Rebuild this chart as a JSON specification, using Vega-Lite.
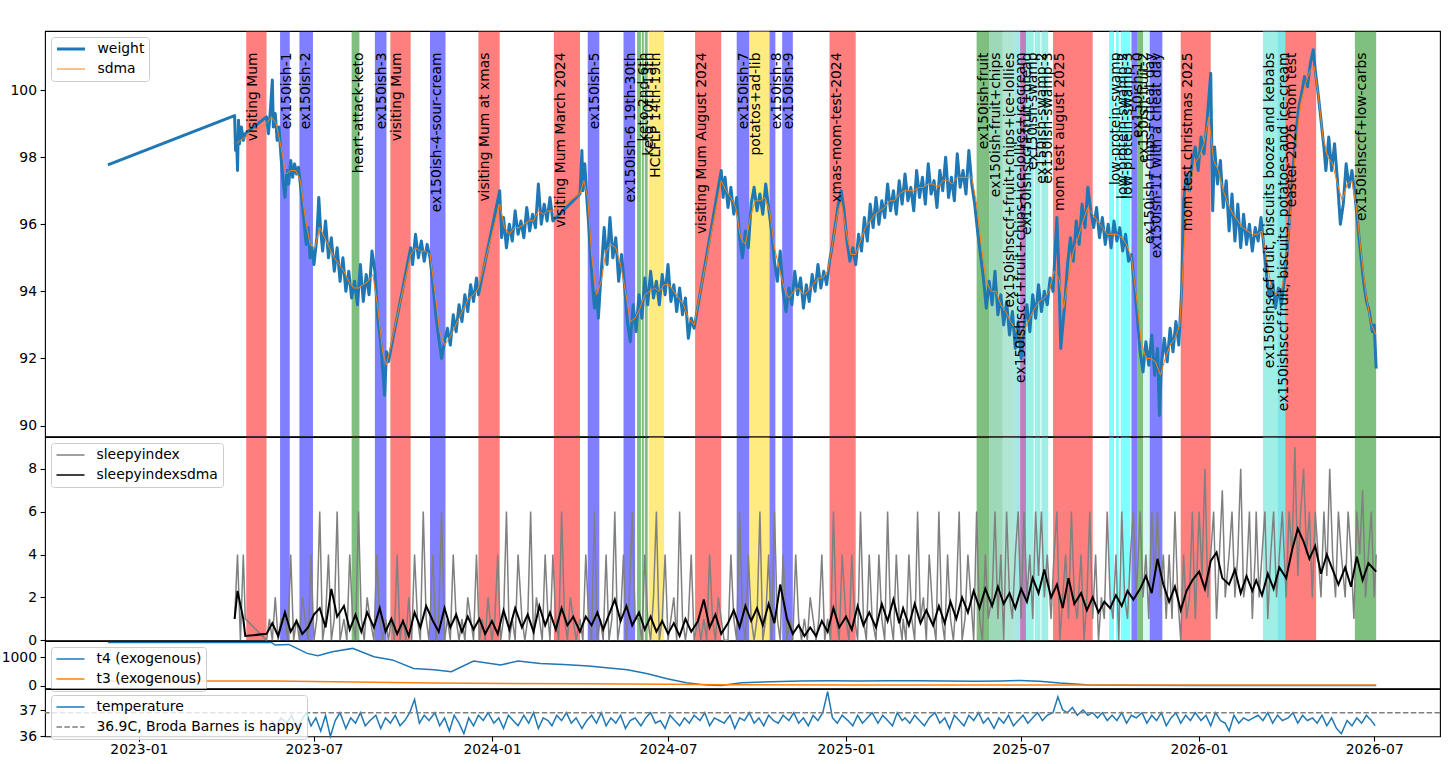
{
"$schema":"https://vega.github.io/schema/vega-lite/v6.json",
"padding":{"left":0,"top":30,"right":10,"bottom":5},
"spacing":0,
"bounds":"flush",
"config":{
 "font":"DejaVu Sans",
 "view":{"stroke":"#000","strokeWidth":1.1},
 "axis":{"labelFont":"DejaVu Sans","labelFontSize":13.9,"labelColor":"#000","tickColor":"#000","tickWidth":1.1,"tickSize":4.9,"domain":false,"grid":false,"title":null},
 "axisY":{"labelPadding":3.6},
 "axisX":{"labelPadding":1.5},
 "legend":{"orient":"top-left","offset":6,"labelFont":"DejaVu Sans","labelFontSize":13.9,"labelColor":"#000","symbolType":"stroke","symbolSize":784,"symbolStrokeWidth":1.5,"fillColor":"rgba(255,255,255,0.8)","strokeColor":"#cccccc","cornerRadius":3,"padding":4.5,"rowPadding":5,"clipHeight":15,"labelOffset":11,"labelLimit":500}
},
"resolve":{"scale":{"y":"independent","color":"independent","fill":"independent","strokeWidth":"independent","strokeDash":"independent"},"legend":{"color":"independent","strokeWidth":"independent","strokeDash":"independent"}},
"datasets":{
"bands":[
{"s":"2023-04-22","e":"2023-05-13","k":"visit","l":"visiting Mum"},
{"s":"2023-05-27","e":"2023-06-06","k":"ex","l":"ex150ish-1"},
{"s":"2023-06-16","e":"2023-06-30","k":"ex","l":"ex150ish-2"},
{"s":"2023-08-09","e":"2023-08-17","k":"keto","l":"heart-attack-keto"},
{"s":"2023-09-02","e":"2023-09-14","k":"ex","l":"ex150ish-3"},
{"s":"2023-09-18","e":"2023-10-09","k":"visit","l":"visiting Mum"},
{"s":"2023-10-29","e":"2023-11-14","k":"ex","l":"ex150ish-4-sour-cream"},
{"s":"2023-12-18","e":"2024-01-09","k":"visit","l":"visiting Mum at xmas"},
{"s":"2024-03-05","e":"2024-04-01","k":"visit","l":"visiting Mum March 2024"},
{"s":"2024-04-09","e":"2024-04-21","k":"ex","l":"ex150ish-5"},
{"s":"2024-05-16","e":"2024-05-28","k":"ex","l":"ex150ish-6 19th-30th"},
{"s":"2024-05-30","e":"2024-06-03","k":"keto","l":"keto 2nd-6th"},
{"s":"2024-06-04","e":"2024-06-06","k":"keto","l":"keto 10th-13th"},
{"s":"2024-06-07","e":"2024-06-10","k":"keto","l":null},
{"s":"2024-06-11","e":"2024-06-27","k":"potato","l":"HCLFLP 14th-19th"},
{"s":"2024-07-29","e":"2024-08-25","k":"visit","l":"visiting Mum August 2024"},
{"s":"2024-09-10","e":"2024-09-23","k":"ex","l":"ex150ish-7"},
{"s":"2024-09-23","e":"2024-10-14","k":"potato","l":"potatos+ad-lib"},
{"s":"2024-10-14","e":"2024-10-20","k":"ex","l":"ex150ish-8"},
{"s":"2024-10-27","e":"2024-11-07","k":"ex","l":"ex150ish-9"},
{"s":"2024-12-15","e":"2025-01-11","k":"visit","l":"xmas-mom-test-2024"},
{"s":"2025-05-16","e":"2025-05-29","k":"keto","l":"ex150ish-fruit"},
{"s":"2025-05-29","e":"2025-06-12","k":"fruitchips","l":"ex150ish-fruit+chips"},
{"s":"2025-06-12","e":"2025-06-24","k":"lollies","l":"ex150ishsccf+fruit+chips+ice-lollies"},
{"s":"2025-06-24","e":"2025-06-30","k":"icecream","l":"ex150ishsccf+fruit+chips+ice-lollies+icecream"},
{"s":"2025-06-30","e":"2025-07-06","k":"bread","l":"ex150ishsccf+fruit+bread"},
{"s":"2025-07-06","e":"2025-07-14","k":"swamp","l":"ex150ish-swamp"},
{"s":"2025-07-15","e":"2025-07-21","k":"swamp","l":"ex150ish-swamp-2"},
{"s":"2025-07-22","e":"2025-07-29","k":"swamp","l":"ex150ish-swamp-3"},
{"s":"2025-08-03","e":"2025-09-13","k":"visit","l":"mom test august 2025"},
{"s":"2025-09-30","e":"2025-10-05","k":"lowprot","l":"low-protein-swamp"},
{"s":"2025-10-07","e":"2025-10-10","k":"lowprot","l":"low-protein-swamp-2"},
{"s":"2025-10-12","e":"2025-10-22","k":"lowprot","l":"low-protein-swamp-3"},
{"s":"2025-10-23","e":"2025-10-29","k":"ex","l":"ex150ish-10"},
{"s":"2025-10-29","e":"2025-11-04","k":"keto","l":"ex150ish-fruit-2"},
{"s":"2025-11-04","e":"2025-11-11","k":"cheat","l":"ex150ish+chips+cheat day"},
{"s":"2025-11-11","e":"2025-11-24","k":"ex","l":"ex150ish-11 with a cheat day"},
{"s":"2025-12-13","e":"2026-01-13","k":"visit","l":"mom test christmas 2025"},
{"s":"2026-03-08","e":"2026-03-23","k":"swamp","l":"ex150ishsccf fruit, biscuits booze and kebabs"},
{"s":"2026-03-23","e":"2026-03-31","k":"icecream2","l":"ex150ishsccf fruit, biscuits, potatoes and ice-cream"},
{"s":"2026-03-31","e":"2026-05-02","k":"visit","l":"easter 2026 mom test"},
{"s":"2026-06-11","e":"2026-07-03","k":"keto","l":"ex150ishsccf+low-carbs"}
],
"weight":[
{"d":"2022-11-30","w":97.77},{"d":"2023-04-10","w":99.24},{"d":"2023-04-11","w":98.2},{"d":"2023-04-12","w":98.6},{"d":"2023-04-13","w":97.6},{"d":"2023-04-14","w":99.1},{"d":"2023-04-15","w":98.4},{"d":"2023-04-17","w":98.9},{"d":"2023-04-19","w":98.5},{"d":"2023-04-21","w":98.7},
{"d":"2023-05-13","w":99.2},{"d":"2023-05-15","w":98.7},{"d":"2023-05-17","w":99.4},{"d":"2023-05-19","w":100.3},{"d":"2023-05-20","w":98.9},{"d":"2023-05-22","w":99.3},{"d":"2023-05-24","w":98.5},{"d":"2023-05-26","w":98.9},{"d":"2023-05-28","w":98.0},{"d":"2023-05-30","w":97.3},
{"d":"2023-06-01","w":96.8},{"d":"2023-06-03","w":97.6},{"d":"2023-06-05","w":97.2},{"d":"2023-06-07","w":97.9},{"d":"2023-06-09","w":97.4},{"d":"2023-06-11","w":97.8},{"d":"2023-06-13","w":97.5},{"d":"2023-06-15","w":97.7},{"d":"2023-06-17","w":97.2},{"d":"2023-06-19","w":96.6},{"d":"2023-06-21","w":96.0},{"d":"2023-06-23","w":95.4},{"d":"2023-06-25","w":95.9},{"d":"2023-06-27","w":95.0},{"d":"2023-06-29","w":95.3},
{"d":"2023-07-01","w":94.8},{"d":"2023-07-04","w":95.6},{"d":"2023-07-06","w":96.8},{"d":"2023-07-08","w":95.8},{"d":"2023-07-10","w":95.2},{"d":"2023-07-13","w":96.1},{"d":"2023-07-16","w":95.0},{"d":"2023-07-19","w":95.6},{"d":"2023-07-22","w":94.6},{"d":"2023-07-25","w":95.3},{"d":"2023-07-28","w":94.3},{"d":"2023-07-31","w":95.0},
{"d":"2023-08-03","w":94.0},{"d":"2023-08-06","w":94.6},{"d":"2023-08-09","w":93.8},{"d":"2023-08-12","w":94.3},{"d":"2023-08-15","w":93.6},{"d":"2023-08-18","w":94.8},{"d":"2023-08-21","w":93.7},{"d":"2023-08-24","w":94.5},{"d":"2023-08-27","w":93.9},{"d":"2023-08-30","w":95.2},
{"d":"2023-09-02","w":94.6},{"d":"2023-09-05","w":93.2},{"d":"2023-09-08","w":92.5},{"d":"2023-09-10","w":91.7},{"d":"2023-09-12","w":90.9},{"d":"2023-09-14","w":92.2},{"d":"2023-09-16","w":91.9},
{"d":"2023-10-09","w":95.3},{"d":"2023-10-11","w":94.8},{"d":"2023-10-14","w":95.7},{"d":"2023-10-17","w":95.0},{"d":"2023-10-20","w":95.5},{"d":"2023-10-23","w":94.9},{"d":"2023-10-26","w":95.4},{"d":"2023-10-29","w":95.0},
{"d":"2023-11-01","w":94.2},{"d":"2023-11-04","w":93.3},{"d":"2023-11-07","w":92.6},{"d":"2023-11-10","w":92.0},{"d":"2023-11-13","w":92.5},{"d":"2023-11-16","w":92.9},{"d":"2023-11-19","w":92.4},{"d":"2023-11-22","w":93.3},{"d":"2023-11-25","w":92.8},{"d":"2023-11-28","w":93.6},
{"d":"2023-12-01","w":93.1},{"d":"2023-12-04","w":93.9},{"d":"2023-12-07","w":93.4},{"d":"2023-12-10","w":94.2},{"d":"2023-12-13","w":93.7},{"d":"2023-12-16","w":94.4},{"d":"2023-12-18","w":93.9},
{"d":"2024-01-09","w":97.0},{"d":"2024-01-11","w":95.6},{"d":"2024-01-13","w":96.2},{"d":"2024-01-16","w":95.3},{"d":"2024-01-19","w":96.0},{"d":"2024-01-22","w":95.5},{"d":"2024-01-25","w":96.4},{"d":"2024-01-28","w":95.7},{"d":"2024-01-31","w":96.1},
{"d":"2024-02-03","w":95.6},{"d":"2024-02-06","w":96.5},{"d":"2024-02-09","w":95.8},{"d":"2024-02-12","w":96.3},{"d":"2024-02-15","w":95.9},{"d":"2024-02-18","w":97.2},{"d":"2024-02-21","w":96.0},{"d":"2024-02-24","w":96.6},{"d":"2024-02-27","w":96.1},{"d":"2024-03-01","w":96.8},{"d":"2024-03-04","w":96.1},
{"d":"2024-04-01","w":96.9},{"d":"2024-04-03","w":98.2},{"d":"2024-04-04","w":97.0},{"d":"2024-04-06","w":97.8},{"d":"2024-04-08","w":96.8},{"d":"2024-04-10","w":96.0},{"d":"2024-04-12","w":95.0},{"d":"2024-04-14","w":94.2},{"d":"2024-04-16","w":93.5},{"d":"2024-04-18","w":94.0},{"d":"2024-04-20","w":93.2},{"d":"2024-04-23","w":94.6},{"d":"2024-04-26","w":95.9},{"d":"2024-04-29","w":94.8},
{"d":"2024-05-02","w":96.2},{"d":"2024-05-05","w":95.0},{"d":"2024-05-08","w":95.6},{"d":"2024-05-11","w":94.3},{"d":"2024-05-14","w":95.1},{"d":"2024-05-17","w":94.2},{"d":"2024-05-20","w":93.1},{"d":"2024-05-23","w":92.5},{"d":"2024-05-26","w":93.6},{"d":"2024-05-29","w":92.8},
{"d":"2024-06-01","w":93.9},{"d":"2024-06-04","w":93.2},{"d":"2024-06-07","w":94.4},{"d":"2024-06-10","w":93.6},{"d":"2024-06-13","w":94.6},{"d":"2024-06-16","w":93.8},{"d":"2024-06-19","w":94.3},{"d":"2024-06-22","w":93.6},{"d":"2024-06-25","w":94.5},{"d":"2024-06-28","w":93.9},
{"d":"2024-07-01","w":94.8},{"d":"2024-07-04","w":93.7},{"d":"2024-07-07","w":94.2},{"d":"2024-07-10","w":93.4},{"d":"2024-07-13","w":94.1},{"d":"2024-07-16","w":93.3},{"d":"2024-07-19","w":93.8},{"d":"2024-07-22","w":92.6},{"d":"2024-07-25","w":93.2},{"d":"2024-07-28","w":92.9},
{"d":"2024-08-25","w":97.6},{"d":"2024-08-27","w":96.8},{"d":"2024-08-29","w":97.4},{"d":"2024-09-01","w":96.5},{"d":"2024-09-04","w":97.1},{"d":"2024-09-07","w":96.3},{"d":"2024-09-10","w":96.8},{"d":"2024-09-13","w":95.6},{"d":"2024-09-16","w":95.0},{"d":"2024-09-19","w":95.8},{"d":"2024-09-22","w":95.3},{"d":"2024-09-25","w":96.6},{"d":"2024-09-28","w":97.1},
{"d":"2024-10-01","w":96.4},{"d":"2024-10-04","w":96.9},{"d":"2024-10-07","w":96.3},{"d":"2024-10-10","w":97.2},{"d":"2024-10-13","w":96.5},{"d":"2024-10-16","w":95.8},{"d":"2024-10-19","w":94.9},{"d":"2024-10-22","w":94.3},{"d":"2024-10-25","w":95.2},{"d":"2024-10-28","w":94.0},{"d":"2024-10-31","w":93.4},
{"d":"2024-11-03","w":94.1},{"d":"2024-11-06","w":93.6},{"d":"2024-11-09","w":94.6},{"d":"2024-11-12","w":93.9},{"d":"2024-11-15","w":94.4},{"d":"2024-11-18","w":93.5},{"d":"2024-11-21","w":94.2},{"d":"2024-11-24","w":93.7},{"d":"2024-11-27","w":94.5},{"d":"2024-11-30","w":94.0},
{"d":"2024-12-03","w":94.8},{"d":"2024-12-06","w":94.1},{"d":"2024-12-09","w":94.6},{"d":"2024-12-12","w":94.2},{"d":"2024-12-15","w":94.9},{"d":"2024-12-18","w":95.4},{"d":"2024-12-21","w":96.0},{"d":"2024-12-24","w":96.6},{"d":"2024-12-27","w":97.0},{"d":"2024-12-30","w":96.4},
{"d":"2025-01-02","w":95.5},{"d":"2025-01-05","w":94.9},{"d":"2025-01-08","w":95.3},{"d":"2025-01-11","w":94.8},{"d":"2025-01-14","w":95.7},{"d":"2025-01-17","w":95.2},{"d":"2025-01-20","w":96.2},{"d":"2025-01-23","w":95.5},{"d":"2025-01-26","w":96.6},{"d":"2025-01-29","w":95.9},
{"d":"2025-02-01","w":96.8},{"d":"2025-02-04","w":96.0},{"d":"2025-02-07","w":96.7},{"d":"2025-02-10","w":96.2},{"d":"2025-02-13","w":97.2},{"d":"2025-02-16","w":96.4},{"d":"2025-02-19","w":97.0},{"d":"2025-02-22","w":96.3},{"d":"2025-02-25","w":97.3},{"d":"2025-02-28","w":96.6},
{"d":"2025-03-03","w":97.5},{"d":"2025-03-06","w":96.7},{"d":"2025-03-09","w":97.1},{"d":"2025-03-12","w":96.4},{"d":"2025-03-15","w":97.6},{"d":"2025-03-18","w":96.8},{"d":"2025-03-21","w":97.4},{"d":"2025-03-24","w":96.6},{"d":"2025-03-27","w":97.8},{"d":"2025-03-30","w":96.9},
{"d":"2025-04-02","w":97.3},{"d":"2025-04-05","w":96.5},{"d":"2025-04-08","w":97.6},{"d":"2025-04-11","w":97.0},{"d":"2025-04-14","w":98.0},{"d":"2025-04-17","w":96.8},{"d":"2025-04-20","w":97.4},{"d":"2025-04-23","w":96.7},{"d":"2025-04-26","w":98.1},{"d":"2025-04-29","w":97.1},
{"d":"2025-05-02","w":97.6},{"d":"2025-05-05","w":96.9},{"d":"2025-05-08","w":98.2},{"d":"2025-05-11","w":97.2},{"d":"2025-05-14","w":96.6},{"d":"2025-05-17","w":95.8},{"d":"2025-05-20","w":95.1},{"d":"2025-05-23","w":94.4},{"d":"2025-05-26","w":93.5},{"d":"2025-05-29","w":94.3},
{"d":"2025-06-01","w":93.6},{"d":"2025-06-04","w":94.6},{"d":"2025-06-07","w":93.3},{"d":"2025-06-10","w":93.9},{"d":"2025-06-13","w":93.0},{"d":"2025-06-16","w":93.7},{"d":"2025-06-19","w":92.7},{"d":"2025-06-22","w":93.4},{"d":"2025-06-25","w":92.3},{"d":"2025-06-28","w":93.1},
{"d":"2025-07-01","w":92.0},{"d":"2025-07-04","w":92.9},{"d":"2025-07-07","w":93.6},{"d":"2025-07-10","w":92.8},{"d":"2025-07-13","w":93.9},{"d":"2025-07-16","w":93.2},{"d":"2025-07-19","w":94.2},{"d":"2025-07-22","w":93.4},{"d":"2025-07-25","w":94.0},{"d":"2025-07-28","w":93.6},{"d":"2025-07-31","w":94.4},
{"d":"2025-08-03","w":94.0},{"d":"2025-08-07","w":96.2},{"d":"2025-08-09","w":94.6},{"d":"2025-08-11","w":92.3},{"d":"2025-08-15","w":93.6},{"d":"2025-08-18","w":94.8},{"d":"2025-08-21","w":95.6},{"d":"2025-08-24","w":94.9},{"d":"2025-08-27","w":96.1},{"d":"2025-08-30","w":95.4},
{"d":"2025-09-02","w":96.6},{"d":"2025-09-05","w":95.9},{"d":"2025-09-08","w":97.1},{"d":"2025-09-11","w":96.4},{"d":"2025-09-14","w":95.9},{"d":"2025-09-17","w":96.5},{"d":"2025-09-20","w":95.6},{"d":"2025-09-23","w":96.2},{"d":"2025-09-26","w":95.4},{"d":"2025-09-29","w":96.0},
{"d":"2025-10-02","w":95.3},{"d":"2025-10-05","w":96.1},{"d":"2025-10-08","w":95.5},{"d":"2025-10-11","w":95.9},{"d":"2025-10-14","w":95.2},{"d":"2025-10-17","w":95.7},{"d":"2025-10-20","w":94.9},{"d":"2025-10-23","w":95.1},{"d":"2025-10-26","w":94.2},{"d":"2025-10-29","w":93.3},
{"d":"2025-11-01","w":92.2},{"d":"2025-11-04","w":91.6},{"d":"2025-11-07","w":92.5},{"d":"2025-11-10","w":91.8},{"d":"2025-11-13","w":92.7},{"d":"2025-11-16","w":91.5},{"d":"2025-11-19","w":92.3},{"d":"2025-11-21","w":90.3},{"d":"2025-11-23","w":91.8},{"d":"2025-11-26","w":92.6},{"d":"2025-11-29","w":91.9},
{"d":"2025-12-02","w":92.9},{"d":"2025-12-05","w":92.2},{"d":"2025-12-08","w":93.1},{"d":"2025-12-11","w":92.4},{"d":"2025-12-14","w":94.1},{"d":"2025-12-16","w":96.7},{"d":"2025-12-19","w":97.5},{"d":"2025-12-22","w":97.0},{"d":"2025-12-25","w":97.9},{"d":"2025-12-28","w":98.3},{"d":"2025-12-31","w":97.6},
{"d":"2026-01-03","w":98.6},{"d":"2026-01-06","w":98.1},{"d":"2026-01-09","w":99.0},{"d":"2026-01-13","w":100.5},{"d":"2026-01-15","w":96.4},{"d":"2026-01-17","w":98.3},{"d":"2026-01-20","w":97.2},{"d":"2026-01-23","w":97.9},{"d":"2026-01-26","w":96.5},{"d":"2026-01-29","w":97.3},
{"d":"2026-02-01","w":95.8},{"d":"2026-02-04","w":96.9},{"d":"2026-02-07","w":95.5},{"d":"2026-02-10","w":96.6},{"d":"2026-02-13","w":95.3},{"d":"2026-02-16","w":96.3},{"d":"2026-02-19","w":95.4},{"d":"2026-02-22","w":96.0},{"d":"2026-02-25","w":95.2},{"d":"2026-02-28","w":95.9},
{"d":"2026-03-03","w":95.5},{"d":"2026-03-06","w":96.2},{"d":"2026-03-09","w":95.3},{"d":"2026-03-12","w":94.4},{"d":"2026-03-15","w":93.8},{"d":"2026-03-18","w":94.3},{"d":"2026-03-21","w":93.5},{"d":"2026-03-24","w":94.1},{"d":"2026-03-27","w":93.6},{"d":"2026-03-30","w":94.3},
{"d":"2026-04-02","w":95.2},{"d":"2026-04-05","w":96.4},{"d":"2026-04-08","w":97.6},{"d":"2026-04-11","w":98.7},{"d":"2026-04-14","w":99.5},{"d":"2026-04-17","w":99.9},{"d":"2026-04-20","w":100.4},{"d":"2026-04-23","w":100.1},{"d":"2026-04-26","w":100.8},{"d":"2026-04-29","w":101.2},
{"d":"2026-05-01","w":100.6},{"d":"2026-05-04","w":99.9},{"d":"2026-05-07","w":99.1},{"d":"2026-05-10","w":98.3},{"d":"2026-05-12","w":97.6},{"d":"2026-05-15","w":98.6},{"d":"2026-05-18","w":97.6},{"d":"2026-05-21","w":98.4},{"d":"2026-05-24","w":97.3},{"d":"2026-05-27","w":96.0},{"d":"2026-05-30","w":96.6},
{"d":"2026-06-02","w":97.8},{"d":"2026-06-05","w":97.1},{"d":"2026-06-08","w":97.6},{"d":"2026-06-11","w":96.9},{"d":"2026-06-14","w":96.0},{"d":"2026-06-17","w":95.1},{"d":"2026-06-20","w":94.3},{"d":"2026-06-23","w":93.7},{"d":"2026-06-26","w":93.4},{"d":"2026-06-29","w":92.8},{"d":"2026-07-01","w":93.0},{"d":"2026-07-03","w":91.7}
],
"sdma":[
{"d":"2023-04-12","s":98.4},{"d":"2023-04-16","s":98.5},{"d":"2023-04-21","s":98.6},{"d":"2023-05-13","s":99.0},{"d":"2023-05-18","s":99.2},{"d":"2023-05-23","s":99.0},{"d":"2023-05-28","s":98.3},
{"d":"2023-06-02","s":97.5},{"d":"2023-06-07","s":97.6},{"d":"2023-06-12","s":97.6},{"d":"2023-06-17","s":97.3},{"d":"2023-06-22","s":96.2},{"d":"2023-06-27","s":95.4},{"d":"2023-07-02","s":95.3},{"d":"2023-07-07","s":95.9},{"d":"2023-07-12","s":95.6},{"d":"2023-07-17","s":95.3},{"d":"2023-07-22","s":95.0},{"d":"2023-07-27","s":94.8},
{"d":"2023-08-01","s":94.6},{"d":"2023-08-06","s":94.3},{"d":"2023-08-11","s":94.1},{"d":"2023-08-16","s":94.1},{"d":"2023-08-21","s":94.2},{"d":"2023-08-26","s":94.3},{"d":"2023-08-31","s":94.5},{"d":"2023-09-05","s":93.5},{"d":"2023-09-10","s":92.2},{"d":"2023-09-14","s":91.8},
{"d":"2023-10-09","s":95.1},{"d":"2023-10-14","s":95.3},{"d":"2023-10-19","s":95.2},{"d":"2023-10-24","s":95.2},{"d":"2023-10-29","s":95.1},{"d":"2023-11-03","s":94.0},{"d":"2023-11-08","s":92.8},{"d":"2023-11-13","s":92.4},{"d":"2023-11-18","s":92.6},{"d":"2023-11-23","s":92.9},{"d":"2023-11-28","s":93.2},
{"d":"2023-12-03","s":93.5},{"d":"2023-12-08","s":93.8},{"d":"2023-12-13","s":93.9},{"d":"2023-12-18","s":94.1},{"d":"2024-01-09","s":96.6},{"d":"2024-01-14","s":95.9},{"d":"2024-01-19","s":95.7},{"d":"2024-01-24","s":95.9},{"d":"2024-01-29","s":95.9},
{"d":"2024-02-03","s":96.0},{"d":"2024-02-08","s":96.1},{"d":"2024-02-13","s":96.1},{"d":"2024-02-18","s":96.4},{"d":"2024-02-23","s":96.3},{"d":"2024-02-28","s":96.4},{"d":"2024-03-04","s":96.4},
{"d":"2024-04-01","s":96.9},{"d":"2024-04-05","s":97.3},{"d":"2024-04-09","s":96.8},{"d":"2024-04-13","s":95.1},{"d":"2024-04-18","s":93.9},{"d":"2024-04-23","s":94.3},{"d":"2024-04-28","s":95.2},{"d":"2024-05-03","s":95.4},{"d":"2024-05-08","s":95.3},{"d":"2024-05-13","s":94.8},{"d":"2024-05-18","s":94.0},{"d":"2024-05-23","s":93.1},{"d":"2024-05-28","s":93.2},
{"d":"2024-06-02","s":93.5},{"d":"2024-06-07","s":93.9},{"d":"2024-06-12","s":94.0},{"d":"2024-06-17","s":94.1},{"d":"2024-06-22","s":94.0},{"d":"2024-06-27","s":94.2},{"d":"2024-07-02","s":94.2},{"d":"2024-07-07","s":94.0},{"d":"2024-07-12","s":93.8},{"d":"2024-07-17","s":93.6},{"d":"2024-07-22","s":93.2},{"d":"2024-07-28","s":93.0},
{"d":"2024-08-25","s":97.3},{"d":"2024-08-30","s":97.0},{"d":"2024-09-04","s":96.8},{"d":"2024-09-09","s":96.5},{"d":"2024-09-14","s":95.6},{"d":"2024-09-19","s":95.4},{"d":"2024-09-24","s":96.2},{"d":"2024-09-29","s":96.7},{"d":"2024-10-04","s":96.7},{"d":"2024-10-09","s":96.8},{"d":"2024-10-14","s":96.4},{"d":"2024-10-19","s":95.3},{"d":"2024-10-24","s":94.7},{"d":"2024-10-29","s":94.1},
{"d":"2024-11-03","s":93.8},{"d":"2024-11-08","s":94.0},{"d":"2024-11-13","s":94.1},{"d":"2024-11-18","s":93.9},{"d":"2024-11-23","s":94.0},{"d":"2024-11-28","s":94.2},{"d":"2024-12-03","s":94.4},{"d":"2024-12-08","s":94.4},{"d":"2024-12-13","s":94.6},{"d":"2024-12-18","s":95.4},{"d":"2024-12-23","s":96.3},{"d":"2024-12-27","s":96.7},
{"d":"2025-01-01","s":95.8},{"d":"2025-01-06","s":95.1},{"d":"2025-01-11","s":95.1},{"d":"2025-01-16","s":95.5},{"d":"2025-01-21","s":95.9},{"d":"2025-01-26","s":96.1},{"d":"2025-01-31","s":96.3},{"d":"2025-02-05","s":96.4},{"d":"2025-02-10","s":96.5},{"d":"2025-02-15","s":96.7},{"d":"2025-02-20","s":96.7},{"d":"2025-02-25","s":96.9},
{"d":"2025-03-02","s":97.0},{"d":"2025-03-07","s":97.0},{"d":"2025-03-12","s":97.0},{"d":"2025-03-17","s":97.1},{"d":"2025-03-22","s":97.1},{"d":"2025-03-27","s":97.2},{"d":"2025-04-01","s":97.2},{"d":"2025-04-06","s":97.1},{"d":"2025-04-11","s":97.3},{"d":"2025-04-16","s":97.3},{"d":"2025-04-21","s":97.2},{"d":"2025-04-26","s":97.4},
{"d":"2025-05-01","s":97.4},{"d":"2025-05-06","s":97.4},{"d":"2025-05-11","s":97.4},{"d":"2025-05-16","s":96.6},{"d":"2025-05-21","s":95.3},{"d":"2025-05-26","s":94.3},{"d":"2025-05-31","s":94.0},{"d":"2025-06-05","s":94.0},{"d":"2025-06-10","s":93.6},{"d":"2025-06-15","s":93.4},{"d":"2025-06-20","s":93.1},{"d":"2025-06-25","s":92.9},{"d":"2025-06-30","s":92.6},
{"d":"2025-07-05","s":92.9},{"d":"2025-07-10","s":93.2},{"d":"2025-07-15","s":93.5},{"d":"2025-07-20","s":93.7},{"d":"2025-07-25","s":93.8},{"d":"2025-07-30","s":94.0},{"d":"2025-08-04","s":94.6},{"d":"2025-08-09","s":94.4},{"d":"2025-08-14","s":93.5},{"d":"2025-08-19","s":94.4},{"d":"2025-08-24","s":95.2},{"d":"2025-08-29","s":95.6},
{"d":"2025-09-03","s":96.1},{"d":"2025-09-08","s":96.5},{"d":"2025-09-13","s":96.3},{"d":"2025-09-18","s":96.1},{"d":"2025-09-23","s":95.9},{"d":"2025-09-28","s":95.7},{"d":"2025-10-03","s":95.7},{"d":"2025-10-08","s":95.7},{"d":"2025-10-13","s":95.6},{"d":"2025-10-18","s":95.4},{"d":"2025-10-23","s":95.0},{"d":"2025-10-28","s":93.9},
{"d":"2025-11-02","s":92.5},{"d":"2025-11-07","s":92.0},{"d":"2025-11-12","s":92.0},{"d":"2025-11-17","s":91.9},{"d":"2025-11-22","s":91.5},{"d":"2025-11-27","s":92.0},{"d":"2025-12-02","s":92.4},{"d":"2025-12-07","s":92.6},{"d":"2025-12-12","s":93.0},{"d":"2025-12-17","s":95.6},{"d":"2025-12-22","s":97.0},{"d":"2025-12-27","s":97.8},
{"d":"2026-01-01","s":98.0},{"d":"2026-01-06","s":98.4},{"d":"2026-01-11","s":99.2},{"d":"2026-01-16","s":97.9},{"d":"2026-01-21","s":97.6},{"d":"2026-01-26","s":97.0},{"d":"2026-01-31","s":96.6},{"d":"2026-02-05","s":96.3},{"d":"2026-02-10","s":96.1},{"d":"2026-02-15","s":95.9},{"d":"2026-02-20","s":95.8},{"d":"2026-02-25","s":95.7},
{"d":"2026-03-02","s":95.7},{"d":"2026-03-07","s":95.8},{"d":"2026-03-12","s":94.9},{"d":"2026-03-17","s":94.1},{"d":"2026-03-22","s":93.9},{"d":"2026-03-27","s":94.0},{"d":"2026-04-01","s":94.9},{"d":"2026-04-06","s":96.5},{"d":"2026-04-11","s":98.4},{"d":"2026-04-16","s":99.6},{"d":"2026-04-21","s":100.2},{"d":"2026-04-26","s":100.6},{"d":"2026-04-30","s":100.7},
{"d":"2026-05-04","s":99.9},{"d":"2026-05-09","s":98.6},{"d":"2026-05-14","s":98.0},{"d":"2026-05-19","s":97.8},{"d":"2026-05-24","s":97.2},{"d":"2026-05-29","s":96.7},{"d":"2026-06-03","s":97.2},{"d":"2026-06-08","s":97.3},{"d":"2026-06-13","s":96.4},{"d":"2026-06-18","s":95.0},{"d":"2026-06-23","s":93.8},{"d":"2026-06-28","s":93.0},{"d":"2026-07-03","s":92.7}
],
"sleepy":[
{"d":"2023-04-10","v":1},{"d":"2023-04-13","v":4},{"d":"2023-04-16","v":0},{"d":"2023-04-19","v":4},{"d":"2023-04-21","v":1},
{"d":"2023-05-13","v":0},{"d":"2023-05-16","v":1},{"d":"2023-05-19","v":0},{"d":"2023-05-22","v":2},{"d":"2023-05-25","v":0},{"d":"2023-05-28","v":1},
{"d":"2023-06-01","v":1},{"d":"2023-06-04","v":0},{"d":"2023-06-07","v":4},{"d":"2023-06-10","v":0},{"d":"2023-06-13","v":1},{"d":"2023-06-16","v":0},{"d":"2023-06-19","v":2},{"d":"2023-06-22","v":1},{"d":"2023-06-25","v":0},{"d":"2023-06-28","v":4},
{"d":"2023-07-01","v":0},{"d":"2023-07-04","v":1},{"d":"2023-07-07","v":6},{"d":"2023-07-10","v":0},{"d":"2023-07-13","v":1},{"d":"2023-07-16","v":4},{"d":"2023-07-19","v":0},{"d":"2023-07-22","v":1},{"d":"2023-07-25","v":6},{"d":"2023-07-28","v":0},
{"d":"2023-08-01","v":1},{"d":"2023-08-04","v":0},{"d":"2023-08-07","v":4},{"d":"2023-08-10","v":1},{"d":"2023-08-13","v":0},{"d":"2023-08-16","v":6},{"d":"2023-08-19","v":1},{"d":"2023-08-22","v":0},{"d":"2023-08-25","v":2},{"d":"2023-08-28","v":1},
{"d":"2023-09-01","v":0},{"d":"2023-09-04","v":4},{"d":"2023-09-07","v":1},{"d":"2023-09-10","v":0},{"d":"2023-09-13","v":1},{"d":"2023-09-16","v":0},{"d":"2023-09-19","v":1},{"d":"2023-09-22","v":0},{"d":"2023-09-25","v":4},{"d":"2023-09-28","v":0},
{"d":"2023-10-01","v":1},{"d":"2023-10-04","v":0},{"d":"2023-10-07","v":2},{"d":"2023-10-10","v":0},{"d":"2023-10-13","v":4},{"d":"2023-10-16","v":1},{"d":"2023-10-19","v":0},{"d":"2023-10-22","v":6},{"d":"2023-10-25","v":1},{"d":"2023-10-28","v":0},
{"d":"2023-11-01","v":4},{"d":"2023-11-04","v":0},{"d":"2023-11-07","v":1},{"d":"2023-11-10","v":6},{"d":"2023-11-13","v":0},{"d":"2023-11-16","v":1},{"d":"2023-11-19","v":0},{"d":"2023-11-22","v":4},{"d":"2023-11-25","v":1},{"d":"2023-11-28","v":0},
{"d":"2023-12-01","v":1},{"d":"2023-12-04","v":0},{"d":"2023-12-07","v":2},{"d":"2023-12-10","v":1},{"d":"2023-12-13","v":0},{"d":"2023-12-16","v":4},{"d":"2023-12-19","v":0},{"d":"2023-12-22","v":1},{"d":"2023-12-25","v":0},{"d":"2023-12-28","v":2},
{"d":"2024-01-01","v":0},{"d":"2024-01-04","v":1},{"d":"2024-01-07","v":4},{"d":"2024-01-10","v":0},{"d":"2024-01-13","v":1},{"d":"2024-01-16","v":6},{"d":"2024-01-19","v":0},{"d":"2024-01-22","v":1},{"d":"2024-01-25","v":0},{"d":"2024-01-28","v":4},
{"d":"2024-02-01","v":1},{"d":"2024-02-04","v":0},{"d":"2024-02-07","v":1},{"d":"2024-02-10","v":6},{"d":"2024-02-13","v":0},{"d":"2024-02-16","v":2},{"d":"2024-02-19","v":1},{"d":"2024-02-22","v":0},{"d":"2024-02-25","v":4},{"d":"2024-02-28","v":1},
{"d":"2024-03-01","v":0},{"d":"2024-03-04","v":4},{"d":"2024-03-07","v":1},{"d":"2024-03-10","v":0},{"d":"2024-03-13","v":6},{"d":"2024-03-16","v":1},{"d":"2024-03-19","v":0},{"d":"2024-03-22","v":2},{"d":"2024-03-25","v":1},{"d":"2024-03-28","v":0},
{"d":"2024-04-01","v":1},{"d":"2024-04-04","v":0},{"d":"2024-04-07","v":4},{"d":"2024-04-10","v":1},{"d":"2024-04-13","v":0},{"d":"2024-04-16","v":6},{"d":"2024-04-19","v":0},{"d":"2024-04-22","v":1},{"d":"2024-04-25","v":0},{"d":"2024-04-28","v":4},
{"d":"2024-05-01","v":0},{"d":"2024-05-04","v":1},{"d":"2024-05-07","v":6},{"d":"2024-05-10","v":0},{"d":"2024-05-13","v":1},{"d":"2024-05-16","v":4},{"d":"2024-05-19","v":0},{"d":"2024-05-22","v":2},{"d":"2024-05-25","v":6},{"d":"2024-05-28","v":1},
{"d":"2024-06-01","v":1},{"d":"2024-06-04","v":0},{"d":"2024-06-07","v":4},{"d":"2024-06-10","v":1},{"d":"2024-06-13","v":0},{"d":"2024-06-16","v":2},{"d":"2024-06-19","v":6},{"d":"2024-06-22","v":0},{"d":"2024-06-25","v":1},{"d":"2024-06-28","v":4},
{"d":"2024-07-01","v":0},{"d":"2024-07-04","v":1},{"d":"2024-07-07","v":2},{"d":"2024-07-10","v":0},{"d":"2024-07-13","v":6},{"d":"2024-07-16","v":1},{"d":"2024-07-19","v":0},{"d":"2024-07-22","v":1},{"d":"2024-07-25","v":4},{"d":"2024-07-28","v":0},
{"d":"2024-08-01","v":1},{"d":"2024-08-04","v":0},{"d":"2024-08-07","v":1},{"d":"2024-08-10","v":0},{"d":"2024-08-13","v":4},{"d":"2024-08-16","v":1},{"d":"2024-08-19","v":0},{"d":"2024-08-22","v":2},{"d":"2024-08-25","v":1},{"d":"2024-08-28","v":0},
{"d":"2024-09-01","v":0},{"d":"2024-09-04","v":4},{"d":"2024-09-07","v":1},{"d":"2024-09-10","v":0},{"d":"2024-09-13","v":6},{"d":"2024-09-16","v":1},{"d":"2024-09-19","v":0},{"d":"2024-09-22","v":4},{"d":"2024-09-25","v":1},{"d":"2024-09-28","v":0},
{"d":"2024-10-01","v":1},{"d":"2024-10-04","v":6},{"d":"2024-10-07","v":0},{"d":"2024-10-10","v":1},{"d":"2024-10-13","v":4},{"d":"2024-10-16","v":0},{"d":"2024-10-19","v":6},{"d":"2024-10-22","v":1},{"d":"2024-10-25","v":0},{"d":"2024-10-28","v":4},
{"d":"2024-11-01","v":0},{"d":"2024-11-04","v":1},{"d":"2024-11-07","v":0},{"d":"2024-11-10","v":4},{"d":"2024-11-13","v":1},{"d":"2024-11-16","v":0},{"d":"2024-11-19","v":1},{"d":"2024-11-22","v":0},{"d":"2024-11-25","v":2},{"d":"2024-11-28","v":1},
{"d":"2024-12-01","v":0},{"d":"2024-12-04","v":1},{"d":"2024-12-07","v":4},{"d":"2024-12-10","v":0},{"d":"2024-12-13","v":1},{"d":"2024-12-16","v":0},{"d":"2024-12-19","v":6},{"d":"2024-12-22","v":1},{"d":"2024-12-25","v":0},{"d":"2024-12-28","v":4},
{"d":"2025-01-01","v":1},{"d":"2025-01-04","v":0},{"d":"2025-01-07","v":4},{"d":"2025-01-10","v":1},{"d":"2025-01-13","v":0},{"d":"2025-01-16","v":6},{"d":"2025-01-19","v":1},{"d":"2025-01-22","v":0},{"d":"2025-01-25","v":4},{"d":"2025-01-28","v":1},
{"d":"2025-02-01","v":0},{"d":"2025-02-04","v":4},{"d":"2025-02-07","v":1},{"d":"2025-02-10","v":0},{"d":"2025-02-13","v":6},{"d":"2025-02-16","v":1},{"d":"2025-02-19","v":0},{"d":"2025-02-22","v":4},{"d":"2025-02-25","v":1},{"d":"2025-02-28","v":0},
{"d":"2025-03-01","v":1},{"d":"2025-03-04","v":0},{"d":"2025-03-07","v":4},{"d":"2025-03-10","v":1},{"d":"2025-03-13","v":0},{"d":"2025-03-16","v":6},{"d":"2025-03-19","v":1},{"d":"2025-03-22","v":2},{"d":"2025-03-25","v":0},{"d":"2025-03-28","v":4},
{"d":"2025-04-01","v":1},{"d":"2025-04-04","v":0},{"d":"2025-04-07","v":6},{"d":"2025-04-10","v":1},{"d":"2025-04-13","v":0},{"d":"2025-04-16","v":4},{"d":"2025-04-19","v":1},{"d":"2025-04-22","v":0},{"d":"2025-04-25","v":2},{"d":"2025-04-28","v":6},
{"d":"2025-05-01","v":0},{"d":"2025-05-04","v":1},{"d":"2025-05-07","v":4},{"d":"2025-05-10","v":2},{"d":"2025-05-13","v":0},{"d":"2025-05-16","v":6},{"d":"2025-05-19","v":1},{"d":"2025-05-22","v":0},{"d":"2025-05-25","v":4},{"d":"2025-05-28","v":1},
{"d":"2025-06-01","v":2},{"d":"2025-06-04","v":6},{"d":"2025-06-07","v":1},{"d":"2025-06-10","v":4},{"d":"2025-06-13","v":0},{"d":"2025-06-16","v":6},{"d":"2025-06-19","v":2},{"d":"2025-06-22","v":1},{"d":"2025-06-25","v":4},{"d":"2025-06-28","v":6},
{"d":"2025-07-01","v":1},{"d":"2025-07-04","v":6},{"d":"2025-07-07","v":2},{"d":"2025-07-10","v":4},{"d":"2025-07-13","v":1},{"d":"2025-07-16","v":6},{"d":"2025-07-19","v":3},{"d":"2025-07-22","v":6},{"d":"2025-07-25","v":2},{"d":"2025-07-28","v":4},
{"d":"2025-08-01","v":1},{"d":"2025-08-04","v":4},{"d":"2025-08-07","v":6},{"d":"2025-08-10","v":0},{"d":"2025-08-13","v":2},{"d":"2025-08-16","v":4},{"d":"2025-08-19","v":1},{"d":"2025-08-22","v":6},{"d":"2025-08-25","v":2},{"d":"2025-08-28","v":1},
{"d":"2025-09-01","v":4},{"d":"2025-09-04","v":0},{"d":"2025-09-07","v":2},{"d":"2025-09-10","v":6},{"d":"2025-09-13","v":1},{"d":"2025-09-16","v":4},{"d":"2025-09-19","v":0},{"d":"2025-09-22","v":2},{"d":"2025-09-25","v":1},{"d":"2025-09-28","v":6},
{"d":"2025-10-01","v":2},{"d":"2025-10-04","v":1},{"d":"2025-10-07","v":4},{"d":"2025-10-10","v":0},{"d":"2025-10-13","v":6},{"d":"2025-10-16","v":2},{"d":"2025-10-19","v":1},{"d":"2025-10-22","v":4},{"d":"2025-10-25","v":6},{"d":"2025-10-28","v":2},
{"d":"2025-11-01","v":6},{"d":"2025-11-04","v":2},{"d":"2025-11-07","v":4},{"d":"2025-11-10","v":1},{"d":"2025-11-13","v":6},{"d":"2025-11-16","v":3},{"d":"2025-11-19","v":6},{"d":"2025-11-22","v":2},{"d":"2025-11-25","v":4},{"d":"2025-11-28","v":1},
{"d":"2025-12-01","v":4},{"d":"2025-12-04","v":1},{"d":"2025-12-07","v":6},{"d":"2025-12-10","v":2},{"d":"2025-12-13","v":0},{"d":"2025-12-16","v":4},{"d":"2025-12-19","v":1},{"d":"2025-12-22","v":2},{"d":"2025-12-25","v":6},{"d":"2025-12-28","v":1},
{"d":"2026-01-01","v":6},{"d":"2026-01-04","v":3},{"d":"2026-01-07","v":8},{"d":"2026-01-10","v":2},{"d":"2026-01-13","v":4},{"d":"2026-01-16","v":6},{"d":"2026-01-19","v":1},{"d":"2026-01-22","v":4},{"d":"2026-01-25","v":7},{"d":"2026-01-28","v":2},
{"d":"2026-02-01","v":4},{"d":"2026-02-04","v":6},{"d":"2026-02-07","v":2},{"d":"2026-02-10","v":4},{"d":"2026-02-13","v":8},{"d":"2026-02-16","v":2},{"d":"2026-02-19","v":3},{"d":"2026-02-22","v":6},{"d":"2026-02-25","v":1},{"d":"2026-02-28","v":4},
{"d":"2026-03-01","v":6},{"d":"2026-03-04","v":2},{"d":"2026-03-07","v":4},{"d":"2026-03-10","v":6},{"d":"2026-03-13","v":1},{"d":"2026-03-16","v":4},{"d":"2026-03-19","v":6},{"d":"2026-03-22","v":2},{"d":"2026-03-25","v":4},{"d":"2026-03-28","v":6},
{"d":"2026-04-01","v":2},{"d":"2026-04-04","v":6},{"d":"2026-04-07","v":4},{"d":"2026-04-10","v":9},{"d":"2026-04-13","v":3},{"d":"2026-04-16","v":6},{"d":"2026-04-19","v":8},{"d":"2026-04-22","v":4},{"d":"2026-04-25","v":6},{"d":"2026-04-28","v":2},
{"d":"2026-05-01","v":6},{"d":"2026-05-04","v":4},{"d":"2026-05-07","v":2},{"d":"2026-05-10","v":6},{"d":"2026-05-13","v":3},{"d":"2026-05-16","v":8},{"d":"2026-05-19","v":4},{"d":"2026-05-22","v":2},{"d":"2026-05-25","v":6},{"d":"2026-05-28","v":4},
{"d":"2026-06-01","v":2},{"d":"2026-06-04","v":6},{"d":"2026-06-07","v":4},{"d":"2026-06-10","v":1},{"d":"2026-06-13","v":6},{"d":"2026-06-16","v":4},{"d":"2026-06-19","v":7},{"d":"2026-06-22","v":2},{"d":"2026-06-25","v":4},{"d":"2026-06-28","v":6},
{"d":"2026-07-01","v":2},{"d":"2026-07-03","v":4}
],
"sleepysdma":[
{"d":"2023-04-10","v":1.0},{"d":"2023-04-13","v":2.3},{"d":"2023-04-19","v":1.0},{"d":"2023-04-21","v":0.2},{"d":"2023-05-13","v":0.3},{"d":"2023-05-19","v":0.8},{"d":"2023-05-25","v":0.2},
{"d":"2023-06-01","v":1.3},{"d":"2023-06-07","v":0.4},{"d":"2023-06-13","v":0.9},{"d":"2023-06-19","v":0.3},{"d":"2023-06-25","v":0.6},
{"d":"2023-07-01","v":1.2},{"d":"2023-07-07","v":1.5},{"d":"2023-07-13","v":0.6},{"d":"2023-07-19","v":2.4},{"d":"2023-07-25","v":1.1},
{"d":"2023-08-01","v":1.6},{"d":"2023-08-07","v":0.5},{"d":"2023-08-13","v":1.2},{"d":"2023-08-19","v":0.4},{"d":"2023-08-25","v":1.3},
{"d":"2023-09-01","v":0.6},{"d":"2023-09-07","v":1.5},{"d":"2023-09-13","v":0.4},{"d":"2023-09-19","v":1.0},{"d":"2023-09-25","v":0.3},
{"d":"2023-10-01","v":0.9},{"d":"2023-10-07","v":0.2},{"d":"2023-10-13","v":1.3},{"d":"2023-10-19","v":0.6},{"d":"2023-10-25","v":1.6},
{"d":"2023-11-01","v":0.9},{"d":"2023-11-07","v":0.4},{"d":"2023-11-13","v":1.5},{"d":"2023-11-19","v":0.6},{"d":"2023-11-25","v":1.2},
{"d":"2023-12-01","v":0.4},{"d":"2023-12-07","v":1.1},{"d":"2023-12-13","v":0.5},{"d":"2023-12-19","v":1.0},{"d":"2023-12-25","v":0.3},
{"d":"2024-01-01","v":0.9},{"d":"2024-01-07","v":0.3},{"d":"2024-01-13","v":1.4},{"d":"2024-01-19","v":0.5},{"d":"2024-01-25","v":1.5},
{"d":"2024-02-01","v":0.6},{"d":"2024-02-07","v":1.2},{"d":"2024-02-13","v":0.4},{"d":"2024-02-19","v":1.6},{"d":"2024-02-25","v":0.7},
{"d":"2024-03-01","v":1.3},{"d":"2024-03-07","v":0.5},{"d":"2024-03-13","v":1.5},{"d":"2024-03-19","v":0.7},{"d":"2024-03-25","v":1.1},
{"d":"2024-04-01","v":0.4},{"d":"2024-04-07","v":1.1},{"d":"2024-04-13","v":0.7},{"d":"2024-04-19","v":1.3},{"d":"2024-04-25","v":0.5},
{"d":"2024-05-01","v":1.2},{"d":"2024-05-07","v":1.9},{"d":"2024-05-13","v":0.9},{"d":"2024-05-19","v":1.6},{"d":"2024-05-25","v":0.7},
{"d":"2024-06-01","v":1.3},{"d":"2024-06-07","v":0.5},{"d":"2024-06-13","v":1.1},{"d":"2024-06-19","v":0.4},{"d":"2024-06-25","v":0.9},
{"d":"2024-07-01","v":0.3},{"d":"2024-07-07","v":0.8},{"d":"2024-07-13","v":0.2},{"d":"2024-07-19","v":1.0},{"d":"2024-07-25","v":0.4},
{"d":"2024-08-01","v":0.9},{"d":"2024-08-07","v":1.9},{"d":"2024-08-13","v":0.6},{"d":"2024-08-19","v":1.2},{"d":"2024-08-25","v":0.3},
{"d":"2024-09-01","v":0.8},{"d":"2024-09-07","v":1.4},{"d":"2024-09-13","v":0.6},{"d":"2024-09-19","v":1.6},{"d":"2024-09-25","v":0.9},
{"d":"2024-10-01","v":1.5},{"d":"2024-10-07","v":0.7},{"d":"2024-10-13","v":1.7},{"d":"2024-10-19","v":0.8},{"d":"2024-10-25","v":2.6},
{"d":"2024-11-01","v":1.0},{"d":"2024-11-07","v":0.3},{"d":"2024-11-13","v":0.7},{"d":"2024-11-19","v":0.2},{"d":"2024-11-25","v":0.6},
{"d":"2024-12-01","v":0.2},{"d":"2024-12-07","v":0.9},{"d":"2024-12-13","v":0.4},{"d":"2024-12-19","v":1.5},{"d":"2024-12-25","v":0.6},
{"d":"2025-01-01","v":1.1},{"d":"2025-01-07","v":0.5},{"d":"2025-01-13","v":1.6},{"d":"2025-01-19","v":0.7},{"d":"2025-01-25","v":1.3},
{"d":"2025-02-01","v":0.6},{"d":"2025-02-07","v":1.7},{"d":"2025-02-13","v":0.9},{"d":"2025-02-19","v":1.9},{"d":"2025-02-25","v":0.8},
{"d":"2025-03-01","v":1.5},{"d":"2025-03-07","v":0.7},{"d":"2025-03-13","v":1.7},{"d":"2025-03-19","v":0.8},{"d":"2025-03-25","v":1.4},
{"d":"2025-04-01","v":0.7},{"d":"2025-04-07","v":1.6},{"d":"2025-04-13","v":0.8},{"d":"2025-04-19","v":1.8},{"d":"2025-04-25","v":1.0},
{"d":"2025-05-01","v":2.0},{"d":"2025-05-07","v":1.3},{"d":"2025-05-13","v":2.3},{"d":"2025-05-19","v":1.5},{"d":"2025-05-25","v":2.4},
{"d":"2025-06-01","v":1.6},{"d":"2025-06-07","v":2.5},{"d":"2025-06-13","v":1.7},{"d":"2025-06-19","v":2.2},{"d":"2025-06-25","v":1.5},
{"d":"2025-07-01","v":2.4},{"d":"2025-07-07","v":1.8},{"d":"2025-07-13","v":2.9},{"d":"2025-07-19","v":2.2},{"d":"2025-07-25","v":3.3},
{"d":"2025-08-01","v":2.0},{"d":"2025-08-07","v":2.6},{"d":"2025-08-13","v":1.5},{"d":"2025-08-19","v":2.9},{"d":"2025-08-25","v":1.7},
{"d":"2025-09-01","v":2.2},{"d":"2025-09-07","v":1.4},{"d":"2025-09-13","v":2.0},{"d":"2025-09-19","v":1.3},{"d":"2025-09-25","v":1.8},
{"d":"2025-10-01","v":1.5},{"d":"2025-10-07","v":2.1},{"d":"2025-10-13","v":1.6},{"d":"2025-10-19","v":2.3},{"d":"2025-10-25","v":1.9},
{"d":"2025-11-01","v":2.4},{"d":"2025-11-07","v":3.0},{"d":"2025-11-13","v":2.2},{"d":"2025-11-19","v":3.8},{"d":"2025-11-25","v":2.6},
{"d":"2025-12-01","v":1.8},{"d":"2025-12-07","v":2.5},{"d":"2025-12-13","v":1.4},{"d":"2025-12-19","v":2.3},{"d":"2025-12-25","v":2.8},
{"d":"2026-01-01","v":3.2},{"d":"2026-01-07","v":2.4},{"d":"2026-01-13","v":3.7},{"d":"2026-01-19","v":4.1},{"d":"2026-01-25","v":2.9},
{"d":"2026-02-01","v":2.6},{"d":"2026-02-07","v":3.3},{"d":"2026-02-13","v":2.2},{"d":"2026-02-19","v":3.0},{"d":"2026-02-25","v":2.3},
{"d":"2026-03-01","v":2.8},{"d":"2026-03-07","v":2.1},{"d":"2026-03-13","v":3.1},{"d":"2026-03-19","v":2.4},{"d":"2026-03-25","v":3.4},
{"d":"2026-04-01","v":2.9},{"d":"2026-04-07","v":4.2},{"d":"2026-04-13","v":5.2},{"d":"2026-04-19","v":4.6},{"d":"2026-04-25","v":3.8},
{"d":"2026-05-01","v":4.4},{"d":"2026-05-07","v":3.1},{"d":"2026-05-13","v":4.0},{"d":"2026-05-19","v":3.3},{"d":"2026-05-25","v":2.6},
{"d":"2026-06-01","v":3.4},{"d":"2026-06-07","v":2.5},{"d":"2026-06-13","v":3.9},{"d":"2026-06-19","v":2.8},{"d":"2026-06-25","v":3.6},{"d":"2026-07-03","v":3.2}
],
"t4":[
{"d":"2022-11-30","v":1503},{"d":"2023-05-18","v":1503},{"d":"2023-05-22","v":1414},{"d":"2023-06-05","v":1434},{"d":"2023-06-24","v":1124},{"d":"2023-07-05","v":1045},{"d":"2023-07-20","v":1180},{"d":"2023-08-10","v":1297},{"d":"2023-09-01","v":1010},{"d":"2023-09-20","v":900},{"d":"2023-10-12","v":607},{"d":"2023-11-02","v":560},{"d":"2023-11-20","v":493},{"d":"2023-12-13","v":862},{"d":"2024-01-10","v":724},{"d":"2024-01-28","v":862},{"d":"2024-02-20","v":780},{"d":"2024-03-15","v":740},{"d":"2024-04-10","v":690},{"d":"2024-05-01","v":620},{"d":"2024-05-20","v":560},{"d":"2024-06-10","v":420},{"d":"2024-06-30","v":250},{"d":"2024-07-20","v":110},{"d":"2024-08-10","v":30},{"d":"2024-08-25","v":20},{"d":"2024-09-15","v":110},{"d":"2024-10-15","v":150},{"d":"2024-11-15","v":170},{"d":"2024-12-15","v":180},{"d":"2025-01-15","v":175},{"d":"2025-02-15","v":185},{"d":"2025-03-15","v":180},{"d":"2025-04-15","v":170},{"d":"2025-05-15","v":165},{"d":"2025-06-10","v":175},{"d":"2025-06-30","v":190},{"d":"2025-07-20","v":160},{"d":"2025-08-10","v":100},{"d":"2025-09-10","v":35},{"d":"2025-10-10","v":22},{"d":"2026-01-01","v":20},{"d":"2026-07-03","v":20}
],
"t3":[
{"d":"2022-11-30","v":172},{"d":"2023-05-20","v":172},{"d":"2023-07-01","v":155},{"d":"2023-09-01","v":125},{"d":"2023-11-01","v":105},{"d":"2024-01-15","v":90},{"d":"2024-04-01","v":80},{"d":"2024-07-01","v":60},{"d":"2024-09-01","v":45},{"d":"2025-01-01","v":38},{"d":"2026-07-03","v":34}
],
"temp":[
{"d":"2023-05-18","v":36.6},{"d":"2023-05-23","v":36.4},{"d":"2023-05-28","v":36.7},
{"d":"2023-06-03","v":36.5},{"d":"2023-06-08","v":36.8},{"d":"2023-06-13","v":36.3},{"d":"2023-06-18","v":36.6},{"d":"2023-06-23","v":36.9},{"d":"2023-06-28","v":36.4},
{"d":"2023-07-03","v":36.7},{"d":"2023-07-08","v":36.2},{"d":"2023-07-13","v":36.8},{"d":"2023-07-18","v":36.0},{"d":"2023-07-23","v":36.6},{"d":"2023-07-28","v":36.9},
{"d":"2023-08-03","v":36.3},{"d":"2023-08-08","v":36.7},{"d":"2023-08-13","v":36.5},{"d":"2023-08-18","v":36.9},{"d":"2023-08-23","v":36.4},{"d":"2023-08-28","v":36.6},
{"d":"2023-09-03","v":36.8},{"d":"2023-09-08","v":36.3},{"d":"2023-09-13","v":36.7},{"d":"2023-09-18","v":36.5},{"d":"2023-09-23","v":36.8},{"d":"2023-09-28","v":36.4},
{"d":"2023-10-03","v":36.6},{"d":"2023-10-08","v":36.9},{"d":"2023-10-13","v":37.4},{"d":"2023-10-18","v":36.5},{"d":"2023-10-23","v":36.8},{"d":"2023-10-28","v":36.6},
{"d":"2023-11-03","v":36.9},{"d":"2023-11-08","v":36.4},{"d":"2023-11-13","v":36.7},{"d":"2023-11-18","v":36.2},{"d":"2023-11-23","v":36.8},{"d":"2023-11-28","v":36.5},
{"d":"2023-12-03","v":36.1},{"d":"2023-12-08","v":36.7},{"d":"2023-12-13","v":36.4},{"d":"2023-12-18","v":36.8},{"d":"2023-12-23","v":36.6},{"d":"2023-12-28","v":36.9},
{"d":"2024-01-03","v":36.5},{"d":"2024-01-08","v":36.7},{"d":"2024-01-13","v":36.3},{"d":"2024-01-18","v":36.8},{"d":"2024-01-23","v":36.6},{"d":"2024-01-28","v":36.4},
{"d":"2024-02-03","v":36.8},{"d":"2024-02-08","v":36.5},{"d":"2024-02-13","v":36.9},{"d":"2024-02-18","v":36.3},{"d":"2024-02-23","v":36.7},{"d":"2024-02-28","v":36.6},
{"d":"2024-03-03","v":36.4},{"d":"2024-03-08","v":36.8},{"d":"2024-03-13","v":36.6},{"d":"2024-03-18","v":36.9},{"d":"2024-03-23","v":36.5},{"d":"2024-03-28","v":36.7},
{"d":"2024-04-03","v":36.3},{"d":"2024-04-08","v":36.6},{"d":"2024-04-13","v":36.8},{"d":"2024-04-18","v":36.5},{"d":"2024-04-23","v":36.9},{"d":"2024-04-28","v":36.4},
{"d":"2024-05-03","v":36.7},{"d":"2024-05-08","v":36.5},{"d":"2024-05-13","v":36.8},{"d":"2024-05-18","v":36.3},{"d":"2024-05-23","v":36.6},{"d":"2024-05-28","v":36.7},
{"d":"2024-06-03","v":36.4},{"d":"2024-06-08","v":36.7},{"d":"2024-06-13","v":36.9},{"d":"2024-06-18","v":36.5},{"d":"2024-06-23","v":36.6},{"d":"2024-06-28","v":36.3},
{"d":"2024-07-03","v":36.8},{"d":"2024-07-08","v":36.6},{"d":"2024-07-13","v":36.4},{"d":"2024-07-18","v":36.7},{"d":"2024-07-23","v":36.5},{"d":"2024-07-28","v":36.8},
{"d":"2024-08-03","v":36.6},{"d":"2024-08-08","v":36.9},{"d":"2024-08-13","v":36.4},{"d":"2024-08-18","v":36.7},{"d":"2024-08-23","v":36.6},{"d":"2024-08-28","v":36.5},
{"d":"2024-09-03","v":36.8},{"d":"2024-09-08","v":36.3},{"d":"2024-09-13","v":36.7},{"d":"2024-09-18","v":36.6},{"d":"2024-09-23","v":36.9},{"d":"2024-09-28","v":36.5},
{"d":"2024-10-03","v":36.7},{"d":"2024-10-08","v":36.4},{"d":"2024-10-13","v":36.8},{"d":"2024-10-18","v":36.6},{"d":"2024-10-23","v":36.5},{"d":"2024-10-28","v":36.8},
{"d":"2024-11-03","v":36.6},{"d":"2024-11-08","v":36.9},{"d":"2024-11-13","v":36.5},{"d":"2024-11-18","v":36.7},{"d":"2024-11-23","v":36.4},{"d":"2024-11-28","v":36.8},
{"d":"2024-12-03","v":36.6},{"d":"2024-12-08","v":36.9},{"d":"2024-12-13","v":37.7},{"d":"2024-12-18","v":36.7},{"d":"2024-12-23","v":36.5},{"d":"2024-12-28","v":36.8},
{"d":"2025-01-03","v":36.6},{"d":"2025-01-08","v":36.4},{"d":"2025-01-13","v":36.8},{"d":"2025-01-18","v":36.5},{"d":"2025-01-23","v":36.7},{"d":"2025-01-28","v":36.9},
{"d":"2025-02-03","v":36.5},{"d":"2025-02-08","v":36.8},{"d":"2025-02-13","v":36.6},{"d":"2025-02-18","v":36.4},{"d":"2025-02-23","v":36.9},{"d":"2025-02-28","v":36.6},
{"d":"2025-03-03","v":36.7},{"d":"2025-03-08","v":36.5},{"d":"2025-03-13","v":36.8},{"d":"2025-03-18","v":36.6},{"d":"2025-03-23","v":36.4},{"d":"2025-03-28","v":36.7},
{"d":"2025-04-03","v":36.9},{"d":"2025-04-08","v":36.5},{"d":"2025-04-13","v":36.7},{"d":"2025-04-18","v":36.3},{"d":"2025-04-23","v":36.8},{"d":"2025-04-28","v":36.6},
{"d":"2025-05-03","v":36.4},{"d":"2025-05-08","v":36.8},{"d":"2025-05-13","v":36.6},{"d":"2025-05-18","v":36.9},{"d":"2025-05-23","v":36.5},{"d":"2025-05-28","v":36.7},
{"d":"2025-06-03","v":36.3},{"d":"2025-06-08","v":36.7},{"d":"2025-06-13","v":36.5},{"d":"2025-06-18","v":36.8},{"d":"2025-06-23","v":36.4},{"d":"2025-06-28","v":36.6},
{"d":"2025-07-03","v":36.8},{"d":"2025-07-08","v":36.5},{"d":"2025-07-13","v":36.7},{"d":"2025-07-18","v":36.9},{"d":"2025-07-23","v":36.6},{"d":"2025-07-28","v":36.8},
{"d":"2025-08-03","v":36.9},{"d":"2025-08-08","v":37.5},{"d":"2025-08-13","v":37.0},{"d":"2025-08-18","v":36.9},{"d":"2025-08-23","v":37.1},{"d":"2025-08-28","v":36.8},
{"d":"2025-09-03","v":37.0},{"d":"2025-09-08","v":36.8},{"d":"2025-09-13","v":36.9},{"d":"2025-09-18","v":36.7},{"d":"2025-09-23","v":36.9},{"d":"2025-09-28","v":36.6},
{"d":"2025-10-03","v":36.8},{"d":"2025-10-08","v":36.6},{"d":"2025-10-13","v":36.9},{"d":"2025-10-18","v":36.5},{"d":"2025-10-23","v":36.8},{"d":"2025-10-28","v":36.7},
{"d":"2025-11-03","v":36.9},{"d":"2025-11-08","v":36.5},{"d":"2025-11-13","v":36.8},{"d":"2025-11-18","v":36.6},{"d":"2025-11-23","v":36.9},{"d":"2025-11-28","v":36.4},
{"d":"2025-12-03","v":36.7},{"d":"2025-12-08","v":36.9},{"d":"2025-12-13","v":36.5},{"d":"2025-12-18","v":36.8},{"d":"2025-12-23","v":36.6},{"d":"2025-12-28","v":36.9},
{"d":"2026-01-03","v":36.6},{"d":"2026-01-08","v":36.8},{"d":"2026-01-13","v":36.4},{"d":"2026-01-18","v":36.9},{"d":"2026-01-23","v":36.6},{"d":"2026-01-28","v":36.5},
{"d":"2026-02-01","v":36.2},{"d":"2026-02-06","v":36.8},{"d":"2026-02-11","v":36.5},{"d":"2026-02-16","v":36.7},{"d":"2026-02-21","v":36.6},
{"d":"2026-03-03","v":36.8},{"d":"2026-03-08","v":36.6},{"d":"2026-03-13","v":36.9},{"d":"2026-03-18","v":36.5},{"d":"2026-03-23","v":36.8},{"d":"2026-03-28","v":36.6},
{"d":"2026-04-03","v":36.7},{"d":"2026-04-08","v":36.9},{"d":"2026-04-13","v":36.5},{"d":"2026-04-18","v":36.8},{"d":"2026-04-23","v":36.6},{"d":"2026-04-28","v":36.7},
{"d":"2026-05-03","v":36.5},{"d":"2026-05-08","v":36.8},{"d":"2026-05-13","v":36.4},{"d":"2026-05-18","v":36.7},{"d":"2026-05-23","v":36.3},{"d":"2026-05-28","v":36.1},
{"d":"2026-06-03","v":36.6},{"d":"2026-06-08","v":36.4},{"d":"2026-06-13","v":36.7},{"d":"2026-06-18","v":36.5},{"d":"2026-06-23","v":36.8},{"d":"2026-06-28","v":36.6},{"d":"2026-07-02","v":36.4}
]
},
"vconcat":[
{
 "width":1395,"height":405.3,
 "layer":[
  {"data":{"name":"bands"},"mark":{"type":"rect","fillOpacity":0.5,"strokeWidth":0},
   "encoding":{"x":{"field":"s","type":"temporal","scale":{"type":"utc","domain":[{"year":2022,"month":9,"date":26,"utc":true},{"year":2026,"month":9,"date":7,"utc":true}]},"axis":null},"x2":{"field":"e"},
    "fill":{"field":"k","type":"nominal","legend":null,"scale":{"domain":["visit","ex","keto","potato","fruitchips","lollies","icecream","bread","swamp","lowprot","cheat","icecream2"],"range":["#ff0000","#0000ff","#008000","#ffd700","#3cb371","#66cdaa","#48d1cc","#800080","#40e0d0","#00ffff","#afeeee","#00ced1"]}}}},
  {"data":{"name":"weight"},"mark":{"type":"line","strokeJoin":"round"},
   "encoding":{"x":{"field":"d","type":"temporal"},
    "y":{"field":"w","type":"quantitative","scale":{"domain":[89.68,101.76],"nice":false,"zero":false},"axis":{"values":[90,92,94,96,98,100]}},
    "color":{"datum":"weight","type":"nominal","scale":{"domain":["weight","sdma"],"range":["#1f77b4","#ff7f0e"]},"legend":{"title":null}},
    "strokeWidth":{"datum":"weight","type":"ordinal","scale":{"domain":["weight","sdma"],"range":[3,1]},"legend":{"title":null}}}},
  {"data":{"name":"sdma"},"mark":{"type":"line","strokeJoin":"round"},
   "encoding":{"x":{"field":"d","type":"temporal"},"y":{"field":"s","type":"quantitative"},
    "color":{"datum":"sdma","type":"nominal"},"strokeWidth":{"datum":"sdma","type":"ordinal"}}},
  {"data":{"name":"bands"},"transform":[{"filter":"datum.l != null"}],
   "mark":{"type":"text","angle":270,"align":"right","baseline":"top","font":"DejaVu Sans","fontSize":13.9,"color":"#000"},
   "encoding":{"x":{"field":"s","type":"temporal"},"y":{"datum":101.12,"type":"quantitative"},"text":{"field":"l"}}}
 ]
},
{
 "width":1395,"height":203.3,
 "layer":[
  {"data":{"name":"bands"},"mark":{"type":"rect","fillOpacity":0.5,"strokeWidth":0},
   "encoding":{"x":{"field":"s","type":"temporal","scale":{"type":"utc","domain":[{"year":2022,"month":9,"date":26,"utc":true},{"year":2026,"month":9,"date":7,"utc":true}]},"axis":null},"x2":{"field":"e"},
    "fill":{"field":"k","type":"nominal","legend":null,"scale":{"domain":["visit","ex","keto","potato","fruitchips","lollies","icecream","bread","swamp","lowprot","cheat","icecream2"],"range":["#ff0000","#0000ff","#008000","#ffd700","#3cb371","#66cdaa","#48d1cc","#800080","#40e0d0","#00ffff","#afeeee","#00ced1"]}}}},
  {"data":{"name":"sleepy"},"mark":{"type":"line","strokeWidth":1.5},
   "encoding":{"x":{"field":"d","type":"temporal"},
    "y":{"field":"v","type":"quantitative","scale":{"domain":[0,9.48],"nice":false,"zero":false},"axis":{"values":[0,2,4,6,8]}},
    "color":{"datum":"sleepyindex","type":"nominal","scale":{"domain":["sleepyindex","sleepyindexsdma"],"range":["#808080","#000000"]},"legend":{"title":null}}}},
  {"data":{"name":"sleepysdma"},"mark":{"type":"line","strokeWidth":2},
   "encoding":{"x":{"field":"d","type":"temporal"},"y":{"field":"v","type":"quantitative"},"color":{"datum":"sleepyindexsdma","type":"nominal"}}}
 ]
},
{
 "width":1395,"height":47.4,
 "layer":[
  {"data":{"name":"t4"},"mark":{"type":"line","strokeWidth":1.5},
   "encoding":{"x":{"field":"d","type":"temporal","scale":{"type":"utc","domain":[{"year":2022,"month":9,"date":26,"utc":true},{"year":2026,"month":9,"date":7,"utc":true}]},"axis":null},
    "y":{"field":"v","type":"quantitative","scale":{"domain":[-83,1552],"nice":false,"zero":false},"axis":{"values":[0,1000],"format":"d"}},
    "color":{"datum":"t4 (exogenous)","type":"nominal","scale":{"domain":["t4 (exogenous)","t3 (exogenous)"],"range":["#1f77b4","#ff7f0e"]},"legend":{"title":null}}}},
  {"data":{"name":"t3"},"mark":{"type":"line","strokeWidth":1.5},
   "encoding":{"x":{"field":"d","type":"temporal"},"y":{"field":"v","type":"quantitative"},"color":{"datum":"t3 (exogenous)","type":"nominal"}}}
 ]
},
{
 "width":1395,"height":47.3,
 "layer":[
  {"data":{"name":"temp"},"mark":{"type":"line","strokeWidth":1.5},
   "encoding":{"x":{"field":"d","type":"temporal","scale":{"type":"utc","domain":[{"year":2022,"month":9,"date":26,"utc":true},{"year":2026,"month":9,"date":7,"utc":true}]},
     "axis":{"format":"%Y-%m","values":[{"year":2023,"month":1,"date":1,"utc":true},{"year":2023,"month":7,"date":1,"utc":true},{"year":2024,"month":1,"date":1,"utc":true},{"year":2024,"month":7,"date":1,"utc":true},{"year":2025,"month":1,"date":1,"utc":true},{"year":2025,"month":7,"date":1,"utc":true},{"year":2026,"month":1,"date":1,"utc":true},{"year":2026,"month":7,"date":1,"utc":true}]}},
    "y":{"field":"v","type":"quantitative","scale":{"domain":[36.0,37.8],"nice":false,"zero":false},"axis":{"values":[36,37]}},
    "color":{"datum":"temperature","type":"nominal","scale":{"domain":["temperature","36.9C, Broda Barnes is happy"],"range":["#1f77b4","#7f7f7f"]},"legend":{"title":null}},
    "strokeDash":{"datum":"temperature","type":"nominal","scale":{"domain":["temperature","36.9C, Broda Barnes is happy"],"range":[[1,0],[5.5,2.4]]},"legend":{"title":null}}}},
  {"data":{"values":[{}]},"mark":{"type":"rule","strokeWidth":1.5},
   "encoding":{"y":{"datum":36.9,"type":"quantitative"},"color":{"datum":"36.9C, Broda Barnes is happy","type":"nominal"},"strokeDash":{"datum":"36.9C, Broda Barnes is happy","type":"nominal"}}}
 ]
}
]
}
